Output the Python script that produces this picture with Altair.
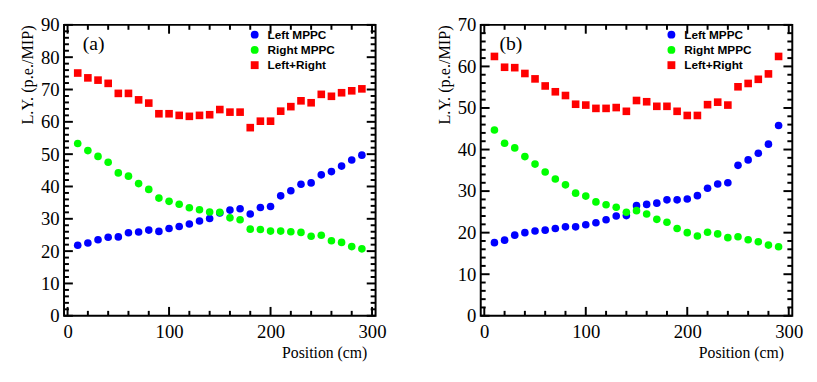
import altair as alt
import pandas as pd

positions = list(range(10, 300, 10))

# Panel (a)
left_a = [21.8, 22.5, 23.5, 24.3, 24.4, 25.7, 25.9, 26.5, 26.1, 27.0,
          27.6, 28.4, 29.3, 30.1, 31.8, 32.7, 33.1, 31.5, 33.5, 33.8,
          37.1, 38.7, 40.7, 41.1, 43.6, 44.6, 46.3, 48.2, 49.7]
right_a = [53.3, 51.1, 49.3, 47.5, 44.2, 43.2, 40.9, 39.1, 36.4, 35.4,
           34.5, 33.4, 32.8, 32.1, 32.0, 30.3, 29.7, 26.8, 26.7, 26.2,
           26.2, 26.0, 25.8, 24.6, 24.9, 23.2, 22.7, 21.4, 20.7]
sum_a = [75.1, 73.6, 72.9, 71.9, 68.8, 68.8, 66.8, 65.8, 62.5, 62.5,
         62.0, 61.7, 62.0, 62.2, 63.8, 63.0, 63.0, 58.2, 60.2, 60.2,
         63.3, 64.7, 66.5, 65.9, 68.5, 67.9, 69.0, 69.6, 70.2]

# Panel (b)
left_b = [17.6, 18.2, 19.4, 20.0, 20.4, 20.6, 21.0, 21.4, 21.4, 21.9,
          22.4, 23.1, 24.0, 24.1, 26.5, 26.8, 27.1, 27.9, 27.9, 28.1,
          28.9, 30.7, 31.7, 32.0, 36.2, 37.5, 39.1, 41.3, 45.8]
right_b = [44.7, 41.5, 40.4, 38.3, 36.5, 34.6, 32.9, 31.5, 29.5, 28.8,
           27.4, 26.7, 26.1, 24.9, 25.3, 24.5, 23.2, 22.5, 21.0, 20.0,
           19.2, 20.1, 19.7, 18.8, 19.0, 18.3, 17.8, 17.0, 16.6]
sum_b = [62.4, 59.8, 59.7, 58.3, 57.0, 55.3, 53.9, 53.0, 50.9, 50.7,
         49.9, 49.9, 50.1, 49.2, 51.8, 51.5, 50.4, 50.4, 49.2, 48.2,
         48.2, 50.8, 51.4, 50.7, 55.1, 55.9, 56.9, 58.2, 62.4]

series_names = ["Left MPPC", "Right MPPC", "Left+Right"]
series_colors = ["#0000ff", "#00ff00", "#ff0000"]
series_shapes = ["circle", "circle", "square"]
x_major = [0, 100, 200, 300]
x_minor = [v for v in range(0, 301, 20) if v % 100]

W, H = 317, 296
SERIF = "Liberation Serif"
SANS = "Liberation Sans"


def panel(lv, rv, sv, ymax, tag):
    rows = []
    for k, vals in enumerate([lv, rv, sv]):
        for p, v in zip(positions, vals):
            rows.append({"pos": p, "ly": v, "series": series_names[k], "ord": k})
    df = pd.DataFrame(rows)

    xs = alt.Scale(domain=[-3.5, 303.5], nice=False, zero=False)
    ys = alt.Scale(domain=[0, ymax], nice=False, zero=False)
    y_major = list(range(0, ymax + 1, 10))
    y_minor = [v for v in range(0, ymax + 1, 2) if v % 10]

    x_axis = alt.Axis(values=x_major, title="Position (cm)",
                      labelPadding=7, labelFlush=False,
                      titleAnchor="end", titleAlign="right",
                      titleX=W - 9, titleY=42, titleBaseline="alphabetic",
                      titleFontSize=16)
    y_axis = alt.Axis(values=y_major, title="L.Y. (p.e./MIP)",
                      labelPadding=5, labelOverlap=False,
                      titleAnchor="end", titlePadding=5, titleFontSize=16.5)

    leg = alt.Legend(title=None, orient="none", legendX=188, legendY=4,
                     symbolSize=64, symbolStrokeWidth=0,
                     labelFont=SANS, labelFontWeight="bold", labelFontSize=12,
                     labelColor="black", labelOffset=7, rowPadding=3.5, padding=0)

    pts = alt.Chart(df).mark_point(filled=True, size=60, opacity=1).encode(
        x=alt.X("pos:Q", scale=xs, axis=x_axis, title="Position (cm)"),
        y=alt.Y("ly:Q", scale=ys, axis=y_axis, title="L.Y. (p.e./MIP)"),
        color=alt.Color("series:N", scale=alt.Scale(domain=series_names, range=series_colors), legend=leg),
        shape=alt.Shape("series:N", scale=alt.Scale(domain=series_names, range=series_shapes), legend=leg),
        order=alt.Order("ord:Q"),
    )

    def yticks(vals, length):
        d = pd.DataFrame({"v": vals})
        base = alt.Chart(d).mark_rule(color="black", strokeWidth=2)
        yenc = alt.Y("v:Q", scale=ys, axis=y_axis, title="L.Y. (p.e./MIP)")
        left = base.encode(y=yenc, x=alt.value(0), x2=alt.value(length))
        right = base.encode(y=yenc, x=alt.value(W), x2=alt.value(W - length))
        return [left, right]

    def xticks(vals, length):
        d = pd.DataFrame({"v": vals})
        base = alt.Chart(d).mark_rule(color="black", strokeWidth=2)
        xenc = alt.X("v:Q", scale=xs, axis=x_axis, title="Position (cm)")
        bottom = base.encode(x=xenc, y=alt.value(H), y2=alt.value(H - length))
        top = base.encode(x=xenc, y=alt.value(0), y2=alt.value(length))
        return [bottom, top]

    tag_df = pd.DataFrame({"t": [tag]})
    tag_txt = alt.Chart(tag_df).mark_text(align="left", baseline="middle", font=SERIF,
                                          fontSize=20, color="black").encode(
        x=alt.value(19), y=alt.value(19.5), text="t:N")

    layers = [pts] + yticks(y_major, 9) + yticks(y_minor, 5) + xticks(x_major, 9) + xticks(x_minor, 5) + [tag_txt]
    return alt.layer(*layers).properties(width=W, height=H)


pa = panel(left_a, right_a, sum_a, 90, "(a)")
pb = panel(left_b, right_b, sum_b, 70, "(b)")

chart = alt.hconcat(pa, pb, spacing=48).resolve_scale(
    color="independent", shape="independent"
).resolve_legend(color="independent", shape="independent").properties(
    padding={"left": 10, "top": 4, "right": 5, "bottom": 5}
).configure_view(stroke="black", strokeWidth=2).configure_axis(
    ticks=False, domain=False, grid=False,
    labelFont=SERIF, labelFontSize=19, labelColor="black",
    titleFont=SERIF, titleFontWeight="normal", titleColor="black"
)

chart.save("out.html", embed_options={"renderer": "svg", "actions": False})
